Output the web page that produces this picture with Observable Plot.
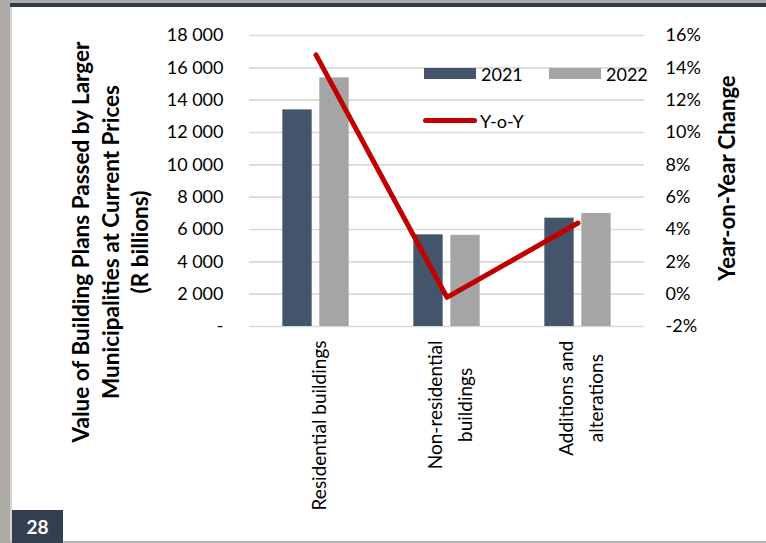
<!DOCTYPE html>
<html>
<head>
<meta charset="utf-8">
<script src="https://cdn.jsdelivr.net/npm/d3@7"></script>
<script src="https://cdn.jsdelivr.net/npm/@observablehq/plot@0.6"></script>
<style>
  html, body { margin: 0; padding: 0; }
  body { width: 766px; height: 543px; overflow: hidden; background: #aeaaa6; font-family: Lato, "Open Sans", sans-serif; }
  #wrap { position: relative; width: 766px; height: 543px; }
  #page { position: absolute; left: 12px; top: 7px; width: 754px; height: 534px; background: #fff; }
  #edge { position: absolute; left: 10px; top: 7px; width: 2px; height: 534px; background: #d6d4d2; }
  #topline { position: absolute; left: 10px; top: 3px; width: 756px; height: 4px; background: #2f3d4d; }
  #bottomline { position: absolute; left: 10px; top: 541px; width: 756px; height: 2px; background: #b8b5b1; }
  #chart { position: absolute; left: 0; top: 0; }
  .ytitle { position: absolute; font-weight: 700; color: #000; text-align: center; white-space: nowrap; transform: translate(-50%, -50%) rotate(-90deg); }
  .leg { position: absolute; font-size: 18px; color: #000; line-height: 20px; }
  .sw { position: absolute; }
  #pnum { position: absolute; left: 12px; top: 510px; width: 51px; height: 33px; background: #333f50; color: #fff; font-weight: 700; font-size: 19px; line-height: 33px; text-align: center; }
</style>
</head>
<body>
<div id="wrap">
  <div id="page"></div>
  <div id="edge"></div>
  <div id="topline"></div>
  <div id="bottomline"></div>
  <div id="chart"></div>
  <div id="ltitle" class="ytitle" style="left:110px; top:242px; line-height:29.5px;">Value of Building Plans Passed by Larger<br>Municipalities at Current Prices<br>(R billions)</div>
  <div id="rtitle" class="ytitle" style="left:726px; top:178px;">Year-on-Year Change</div>
  <div id="legend"></div>
  <div id="pnum">28</div>
</div>
<script>
// ---- data ----
const categories = ["Residential buildings", "Non-residential buildings", "Additions and alterations"];
const categoryLabels = ["Residential buildings", "Non-residential\nbuildings", "Additions and\nalterations"];
const values2021 = [13400, 5670, 6700];
const values2022 = [15380, 5640, 6990];
const yoyChange = [14.8, -0.2, 4.4];
const seriesNames = ["2021", "2022", "Y-o-Y"];
const leftTicks = [0, 2000, 4000, 6000, 8000, 10000, 12000, 14000, 16000, 18000];
const rightTicks = [-2, 0, 2, 4, 6, 8, 10, 12, 14, 16];

const colors = {"2021": "#44546a", "2022": "#a5a5a5", "Y-o-Y": "#c00000"};

// tables
const bars = [];
categories.forEach((c, i) => {
  bars.push({category: c, year: "2021", value: values2021[i]});
  bars.push({category: c, year: "2022", value: values2022[i]});
});
const yoy = categories.map((c, i) => ({category: c, pct: yoyChange[i]}));

const yMax = leftTicks[leftTicks.length - 1];
const pMin = rightTicks[0], pMax = rightTicks[rightTicks.length - 1];
const pctToLeft = p => (p - pMin) / (pMax - pMin) * yMax;
const leftToPct = v => Math.round(v / yMax * (pMax - pMin) + pMin);

const fmt = d3.formatLocale({thousands: " ", grouping: [3], decimal: ".", currency: ["", ""]}).format(",");
const leftFmt = d => d === 0 ? "-" : fmt(d);

// font fitting helper (layout only)
const cv = document.createElement("canvas").getContext("2d");
function fitSize(text, targetWidth, weight) {
  cv.font = `${weight} 20px Lato`;
  return 20 * targetWidth / cv.measureText(text).width;
}

// titles
const lt = document.getElementById("ltitle");
lt.style.fontSize = fitSize("Value of Building Plans Passed by Larger", 402, 700).toFixed(2) + "px";
const rt = document.getElementById("rtitle");
rt.style.fontSize = fitSize("Year-on-Year Change", 206, 700).toFixed(2) + "px";

const W = 766, H = 543;
const mL = 249, mR = W - 644, mT = 35, mB = H - 326;
const bw = (W - mL - mR) / categories.length;
const barW = 30, gap = 7;
const inset = (bw - barW) / 2;

// category labels
const labelFont = fitSize("Residential buildings", 170, 400);
cv.font = `400 ${labelFont}px Lato`;
const labelMarks = categories.map((c, i) => {
  const lines = categoryLabels[i].split("\n");
  const longest = Math.max(...lines.map(l => cv.measureText(l).width));
  return Plot.text([c], {
    x: d => d, text: () => categoryLabels[i], frameAnchor: "bottom",
    rotate: -90, textAnchor: "middle", lineAnchor: "middle", lineHeight: 30 / labelFont,
    dy: 14 + longest / 2, fontSize: labelFont, fill: "#000"
  });
});

const chart = Plot.plot({
  width: W, height: H,
  marginLeft: mL, marginRight: mR, marginTop: mT, marginBottom: mB,
  style: {background: "transparent", fontFamily: "Lato, 'Open Sans', sans-serif", color: "#000"},
  x: {domain: categories, padding: 0, axis: null},
  y: {domain: [0, yMax], axis: null},
  marks: [
    Plot.gridY(leftTicks, {stroke: "#d9d9d9", strokeOpacity: 1, strokeWidth: 1.6}),
    Plot.barY(bars.filter(d => d.year === "2021"), {x: "category", y: "value", fill: colors["2021"], insetLeft: inset, insetRight: inset, dx: -(barW + gap) / 2}),
    Plot.barY(bars.filter(d => d.year === "2022"), {x: "category", y: "value", fill: colors["2022"], insetLeft: inset, insetRight: inset, dx: (barW + gap) / 2}),
    Plot.line(yoy, {x: "category", y: d => pctToLeft(d.pct), stroke: colors["Y-o-Y"], strokeWidth: 5, strokeLinecap: "round", strokeLinejoin: "round"}),
    Plot.axisY(leftTicks, {anchor: "left", tickSize: 0, tickPadding: 26, tickFormat: leftFmt, fontSize: 18, label: null, fill: "#000"}),
    Plot.axisY(rightTicks.map(pctToLeft), {anchor: "right", tickSize: 0, tickPadding: 21, tickFormat: v => leftToPct(v) + "%", fontSize: 18, label: null, fill: "#000"}),
    ...labelMarks
  ]
});
document.getElementById("chart").appendChild(chart);

// legend
const leg = document.getElementById("legend");
const items = [
  {name: seriesNames[0], kind: "rect", x: 424, y: 68},
  {name: seriesNames[1], kind: "rect", x: 549, y: 68},
  {name: seriesNames[2], kind: "line", x: 423, y: 118}
];
items.forEach(it => {
  const sw = document.createElement("div");
  sw.className = "sw";
  if (it.kind === "rect") {
    Object.assign(sw.style, {left: it.x + "px", top: it.y + "px", width: "52px", height: "11px", background: colors[it.name]});
  } else {
    Object.assign(sw.style, {left: it.x + "px", top: it.y + "px", width: "54px", height: "5px", background: colors[it.name], borderRadius: "3px"});
  }
  leg.appendChild(sw);
  const t = document.createElement("div");
  t.className = "leg";
  t.textContent = it.name;
  const cy = it.kind === "rect" ? it.y + 5.5 : it.y + 2.5;
  Object.assign(t.style, {left: (it.x + 57) + "px", top: (cy - 10) + "px"});
  leg.appendChild(t);
});
</script>
</body>
</html>
